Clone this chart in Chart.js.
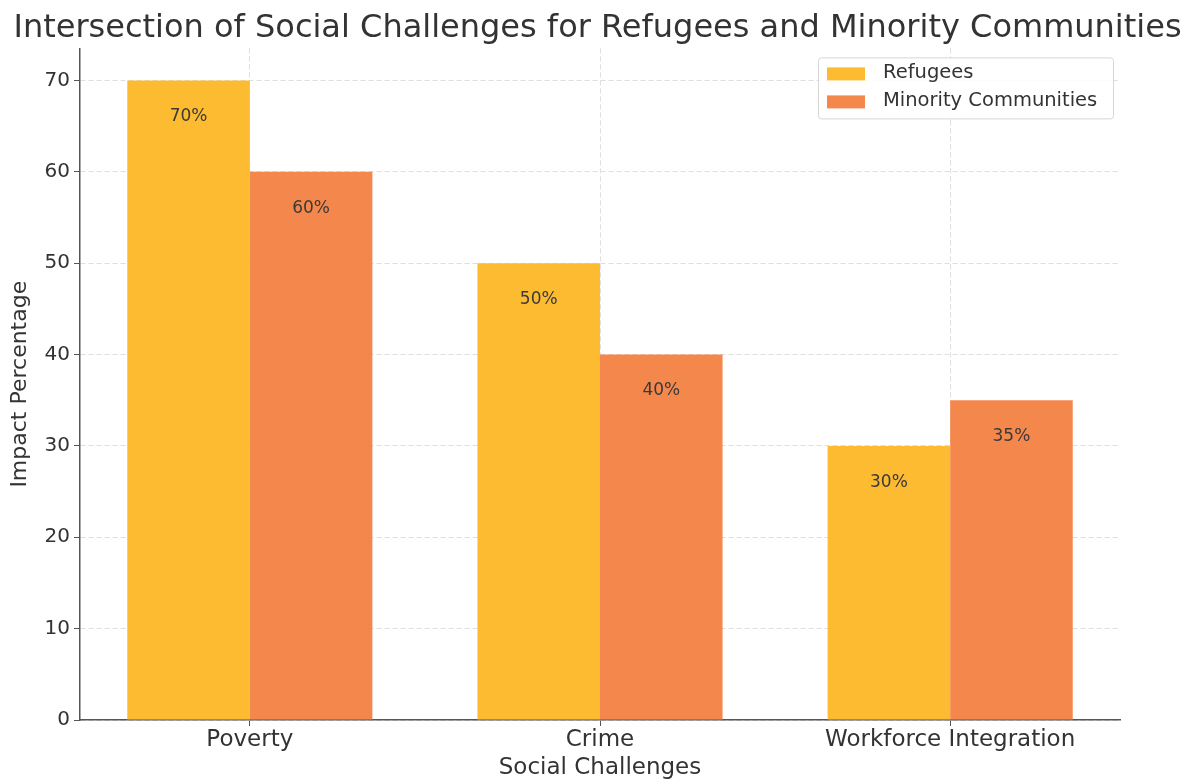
<!DOCTYPE html>
<html>
<head>
<meta charset="utf-8">
<script src="https://cdn.jsdelivr.net/npm/chart.js@4.4.1/dist/chart.umd.min.js"></script>
<style>
  html, body { margin: 0; padding: 0; background: #fff; }
  #wrap { width: 1195px; height: 780px; }
</style>
</head>
<body>
<div id="wrap"><canvas id="chart" width="1195" height="780"></canvas></div>
<script>
// dados do gráfico
const categories = ['Poverty', 'Crime', 'Workforce Integration'];
const refugees = [70, 50, 30];
const minorities = [60, 40, 35];
const seriesNames = ['Refugees', 'Minority Communities'];
const yTicks = [0, 10, 20, 30, 40, 50, 60, 70];

const FONT = 'DejaVu Sans';
const TEXT = '#333333';
const GRID = '#dedede';
const AXIS = '#555555';

// rótulos de valor dentro das barras
const barLabels = {
  id: 'barLabels',
  afterDatasetsDraw(chart) {
    const ctx = chart.ctx;
    const y = chart.scales.y;
    ctx.save();
    ctx.font = '17px ' + FONT;
    ctx.fillStyle = '#3a3a3a';
    ctx.textAlign = 'center';
    ctx.textBaseline = 'middle';
    chart.data.datasets.forEach((ds, i) => {
      chart.getDatasetMeta(i).data.forEach((bar, j) => {
        const v = ds.data[j].y;
        ctx.fillText(v + '%', bar.x, y.getPixelForValue(v - 4));
      });
    });
    ctx.restore();
  }
};

// legenda dentro da área do gráfico, canto superior direito
const boxLegend = {
  id: 'boxLegend',
  afterDraw(chart) {
    const ctx = chart.ctx;
    const area = chart.chartArea;
    const w = 295, h = 61;
    const x0 = area.right - 7 - w;
    const y0 = area.top + 9;
    ctx.save();
    ctx.fillStyle = 'rgba(255,255,255,0.85)';
    ctx.strokeStyle = '#d6d6d6';
    ctx.lineWidth = 1;
    ctx.beginPath();
    ctx.roundRect(x0 + 0.5, y0 + 0.5, w, h, 3);
    ctx.fill();
    ctx.stroke();
    ctx.font = '19.5px ' + FONT;
    ctx.textBaseline = 'middle';
    ctx.textAlign = 'left';
    chart.data.datasets.forEach((ds, i) => {
      const cy = y0 + 16 + i * 28;
      ctx.fillStyle = ds.backgroundColor;
      ctx.fillRect(x0 + 9, cy - 6, 38, 13);
      ctx.fillStyle = TEXT;
      ctx.fillText(ds.label, x0 + 65, cy);
    });
    ctx.restore();
  }
};

new Chart(document.getElementById('chart'), {
  type: 'bar',
  data: {
    datasets: [
      {
        label: seriesNames[0],
        data: categories.map((c, i) => ({ x: i, y: refugees[i] })),
        backgroundColor: '#FCBB30'
      },
      {
        label: seriesNames[1],
        data: categories.map((c, i) => ({ x: i, y: minorities[i] })),
        backgroundColor: '#F4874C'
      }
    ]
  },
  options: {
    responsive: false,
    animation: false,
    layout: { padding: 0 },
    categoryPercentage: 0.7,
    barPercentage: 1.0,
    plugins: {
      legend: { display: false },
      tooltip: { enabled: false },
      title: {
        display: true,
        text: 'Intersection of Social Challenges for Refugees and Minority Communities',
        color: TEXT,
        font: { family: FONT, size: 32, weight: 'normal' },
        padding: { top: 9, bottom: 1 }
      }
    },
    scales: {
      x: {
        type: 'linear',
        offset: false,
        min: -0.485,
        max: 2.485,
        afterBuildTicks: s => { s.ticks = categories.map((c, i) => ({ value: i })); },
        afterFit: s => { s.height = 60; },
        ticks: {
          callback: v => categories[v],
          color: TEXT,
          font: { family: FONT, size: 23 },
          padding: 0,
          maxRotation: 0,
          autoSkip: false
        },
        grid: { offset: false, color: GRID, tickLength: 6, tickColor: AXIS, tickBorderDash: [] },
        border: { color: AXIS, width: 1.5, dash: [5, 3] },
        title: {
          display: true,
          text: 'Social Challenges',
          color: TEXT,
          font: { family: FONT, size: 23 },
          padding: { top: 0, bottom: -2 }
        }
      },
      y: {
        min: 0,
        max: 73.5,
        afterBuildTicks: s => { s.ticks = yTicks.map(v => ({ value: v })); },
        afterFit: s => { s.width = 80; },
        ticks: {
          color: TEXT,
          font: { family: FONT, size: 20 },
          padding: 4
        },
        grid: { color: GRID, tickLength: 6, tickColor: AXIS, tickBorderDash: [] },
        border: { color: AXIS, width: 1.5, dash: [5, 3] },
        title: {
          display: true,
          text: 'Impact Percentage',
          color: TEXT,
          font: { family: FONT, size: 22 },
          padding: { top: 7, bottom: 0 }
        }
      },
      yRight: {
        position: 'right',
        afterFit: s => { s.width = 75; },
        ticks: { display: false },
        grid: { display: false },
        border: { display: false }
      }
    }
  },
  plugins: [barLabels, boxLegend]
});
</script>
</body>
</html>
